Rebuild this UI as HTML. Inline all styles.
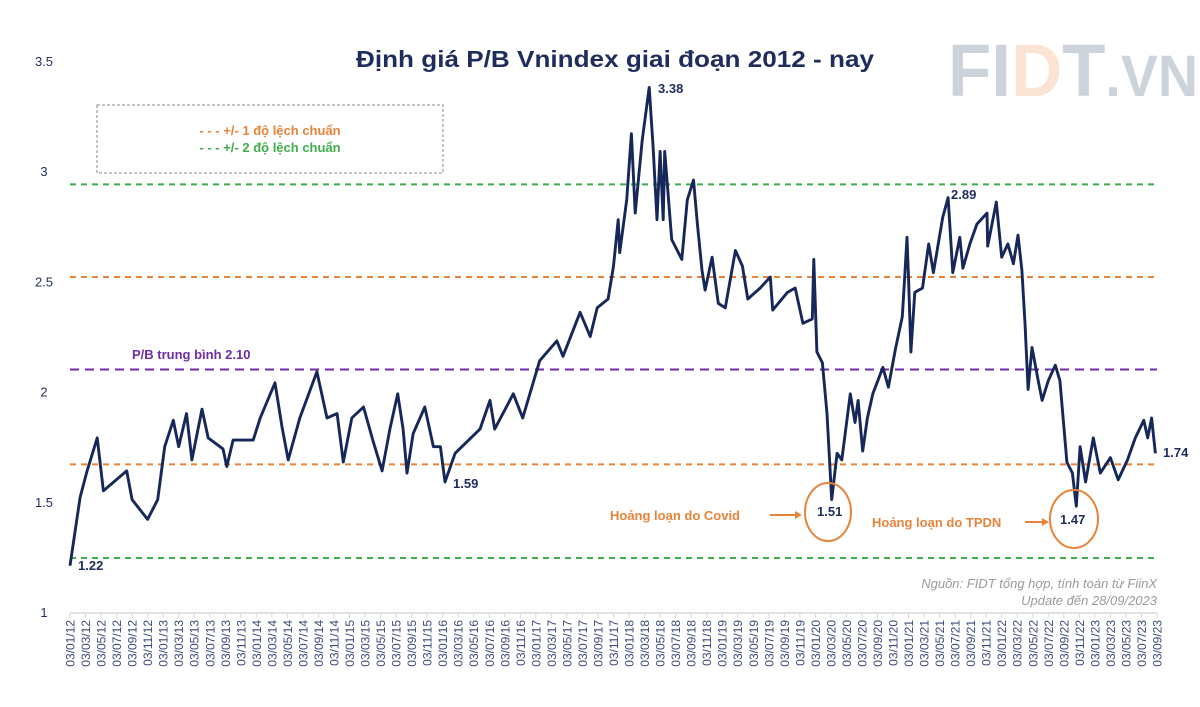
<!DOCTYPE html>
<html><head><meta charset="utf-8">
<style>
body{margin:0;background:#fff;}
svg{display:block;font-family:"Liberation Sans",sans-serif;}
</style></head>
<body>
<svg id="chart" width="1200" height="707" viewBox="0 0 1200 707" xmlns="http://www.w3.org/2000/svg">
<rect width="1200" height="707" fill="#fff"/>
<g font-weight="bold" font-size="74" fill="#cdd3db">
<text x="948" y="96" textLength="250" lengthAdjust="spacingAndGlyphs">FI<tspan fill="#fbe4d4">D</tspan>T<tspan font-size="58">.VN</tspan></text>
</g>
<text x="615" y="67" text-anchor="middle" font-size="23" font-weight="bold" fill="#1f2d5c" textLength="518" lengthAdjust="spacingAndGlyphs">Định giá P/B Vnindex giai đoạn 2012 - nay</text>
<rect x="97" y="105" width="346" height="68" fill="none" stroke="#888" stroke-dasharray="3,2"/>
<text x="270" y="135" text-anchor="middle" font-size="13" font-weight="bold" fill="#e8833a">- - - +/- 1 độ lệch chuẩn</text>
<text x="270" y="152" text-anchor="middle" font-size="13" font-weight="bold" fill="#3fae4a">- - - +/- 2 độ lệch chuẩn</text>
<g id="yaxis"></g>
<g id="xaxis"></g>
<g id="refs"></g>
<g id="series"></g>
<g font-weight="bold" font-size="13" fill="#1f2d5c">
<text x="78" y="570">1.22</text>
<text x="453" y="488">1.59</text>
<text x="658" y="93">3.38</text>
<text x="951" y="199">2.89</text>
<text x="1163" y="457">1.74</text>
<text x="817" y="516">1.51</text>
<text x="1060" y="524">1.47</text>
<text x="132" y="359" fill="#6f2da8">P/B trung bình 2.10</text>
<text x="610" y="520" fill="#e8833a">Hoảng loạn do Covid</text>
<text x="872" y="527" fill="#e8833a">Hoảng loạn do TPDN</text>
<line x1="770" y1="515" x2="798" y2="515" stroke="#e8833a" stroke-width="2"/>
<polygon points="802,515 795,511 795,519" fill="#e8833a"/>
<line x1="1025" y1="522" x2="1045" y2="522" stroke="#e8833a" stroke-width="2"/>
<polygon points="1049,522 1042,518 1042,526" fill="#e8833a"/>
<ellipse cx="828" cy="512" rx="23" ry="29" fill="none" stroke="#e8833a" stroke-width="2"/>
<ellipse cx="1074" cy="519" rx="24" ry="29" fill="none" stroke="#e8833a" stroke-width="2"/>
</g>
<g font-style="italic" font-size="13" fill="#9a9a9a" text-anchor="end">
<text x="1157" y="588">Nguồn: FIDT tổng hợp, tính toán từ FiinX</text>
<text x="1157" y="605">Update đến 28/09/2023</text>
</g>
</svg>
<script>
const monthIndex=[0,1.3,2.2,3.5,4.3,7.3,8,10,11.3,12.2,13.3,14,15,15.7,17,17.8,19.7,20.2,21,23.6,24.5,26.4,27.3,28.1,29.6,31.8,33.1,34.4,35.2,36.3,37.8,39,40.2,41.2,42.2,42.9,43.4,44.2,45.7,46.8,47.7,48.3,49.6,52.8,54.1,54.7,57.1,58.3,60.5,62.7,63.5,65.7,67,67.9,69.3,70,70.6,70.8,71.7,72.3,72.8,73.7,74.6,75.1,75.6,76,76.4,76.6,77.5,78.8,79.5,80.3,80.8,81.4,81.8,82.7,83.5,84.4,85.7,86.6,87.3,88.9,90.2,90.5,92.4,93.4,94.4,95.6,95.8,96.2,96.9,97.5,98.1,98.8,99.4,100.5,101.1,101.5,102.1,102.7,103.4,104.7,105.4,106.3,107.2,107.5,107.8,108,108.3,108.8,109.8,110.6,111.2,112.4,113.1,113.7,114.6,115,115.9,116.8,118.1,118.2,119.3,120,120.8,121.5,122.1,122.6,123,123.4,123.9,124.7,125.2,126,126.9,127.5,128.4,129.1,129.6,130.1,130.8,131.8,132.7,134,135,136.2,137.2,138.3,138.8,139.3,139.8];
const pbValues=[1.21,1.52,1.64,1.79,1.55,1.64,1.51,1.42,1.51,1.75,1.87,1.75,1.90,1.69,1.92,1.79,1.74,1.66,1.78,1.78,1.88,2.04,1.84,1.69,1.88,2.09,1.88,1.90,1.68,1.88,1.93,1.78,1.64,1.83,1.99,1.83,1.63,1.81,1.93,1.75,1.75,1.59,1.72,1.83,1.96,1.83,1.99,1.88,2.14,2.23,2.16,2.36,2.25,2.38,2.42,2.57,2.78,2.63,2.87,3.17,2.81,3.14,3.38,3.11,2.78,3.09,2.78,3.09,2.69,2.60,2.87,2.96,2.76,2.55,2.46,2.61,2.40,2.38,2.64,2.57,2.42,2.47,2.52,2.37,2.45,2.47,2.31,2.33,2.60,2.18,2.13,1.90,1.51,1.72,1.69,1.99,1.86,1.96,1.73,1.88,1.99,2.11,2.02,2.19,2.34,2.52,2.70,2.52,2.18,2.45,2.47,2.67,2.54,2.79,2.88,2.54,2.70,2.56,2.67,2.76,2.81,2.66,2.86,2.61,2.67,2.58,2.71,2.55,2.31,2.01,2.20,2.05,1.96,2.05,2.12,2.05,1.68,1.63,1.48,1.75,1.59,1.79,1.63,1.70,1.60,1.69,1.79,1.87,1.79,1.88,1.72];
const yTicks=[1,1.5,2,2.5,3,3.5];
const refValues=[2.94,2.52,2.10,1.67,1.245];
const refColors=['#3fae4a','#e8833a','#6f2da8','#e8833a','#3fae4a'];
const xMonthCount=140;
const NS='http://www.w3.org/2000/svg';
const X0=70,X1=1157,Y0=612,Y1=61;
function xs(m){return X0+(X1-X0)*m/xMonthCount;}
function ys(v){return Y0-(v-1)/(3.5-1)*(Y0-Y1);}
function mk(tag,attrs,parent){const e=document.createElementNS(NS,tag);for(const k in attrs)e.setAttribute(k,attrs[k]);parent.appendChild(e);return e;}
const ya=document.getElementById('yaxis');
yTicks.forEach(t=>{const e=mk('text',{x:44,y:ys(t)+5,'text-anchor':'middle','font-size':13,fill:'#1f2d5c'},ya);


e.textContent=String(t);});
const xa=document.getElementById('xaxis');
const al=mk('line',{x1:X0,y1:613,x2:X1,y2:613,stroke:'#d9d9d9','stroke-width':1.5},xa);


for(let m=0;m<=xMonthCount;m+=2){
 const x=xs(m);
 mk('line',{x1:x,y1:613,x2:x,y2:618,stroke:'#d9d9d9'},xa);
 const mon=(m%12)+1,yr=12+Math.floor(m/12);
 const lab='03/'+String(mon).padStart(2,'0')+'/'+yr;
 const t=mk('text',{transform:'translate('+(x+4.5)+',620) rotate(-90)','text-anchor':'end','font-size':12,fill:'#3b4a7a'},xa);
 
 
 t.textContent=lab;
}
const rg=document.getElementById('refs');
refValues.forEach((v,i)=>{const l=mk('line',{x1:X0,y1:ys(v),x2:X1,y2:ys(v),stroke:refColors[i],'stroke-width':2,'stroke-dasharray':i==2?'9,6':'6,5'},rg);

});
const sg=document.getElementById('series');
const d=monthIndex.map((m,i)=>(i?'L':'M')+xs(m).toFixed(1)+','+ys(pbValues[i]).toFixed(1)).join(' ');
const p=mk('path',{d:d,fill:'none',stroke:'#16275a','stroke-width':2.9,'stroke-linejoin':'round'},sg);


</script>
</body></html>
